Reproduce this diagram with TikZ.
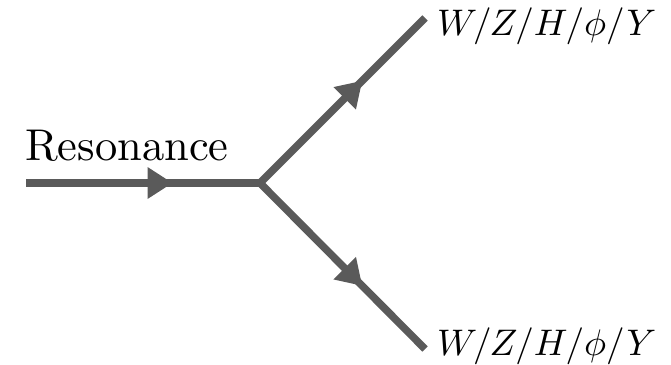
\documentclass[tikz,border=0pt]{standalone}
\usepackage{graphicx}
\usetikzlibrary{arrows.meta,decorations.markings}
\definecolor{linegray}{HTML}{5A5A5A}
\begin{document}
\begin{tikzpicture}[x=1pt,y=-1pt,
  prop/.style={draw=linegray,line width=7.5pt,postaction=decorate,
    decoration={markings,mark=at position 0.62 with {\arrow[linegray]{Triangle[length=25pt,width=30pt]}}}},
  lbl/.style={anchor=base west,inner sep=0pt,text=black}]
\useasboundingbox (0,0) rectangle (671,364);
\coordinate (in) at (26,183);
\coordinate (v) at (260,183);
\coordinate (vx) at (262.5,183);
\coordinate (up) at (425,18);
\coordinate (dn) at (425,349);
\draw[prop] (in) -- (vx);
\draw[prop] (v) -- (up);
\draw[prop] (v) -- (dn);
\node[lbl] (res) at (25,160) {\scalebox{4.45}{Resonance}};
\node[lbl] (top) at (437,35) {\scalebox{3.7}{$W/Z/H/\phi/Y$}};
\node[lbl] (bot) at (437,355) {\scalebox{3.7}{$W/Z/H/\phi/Y$}};
\end{tikzpicture}
\end{document}
